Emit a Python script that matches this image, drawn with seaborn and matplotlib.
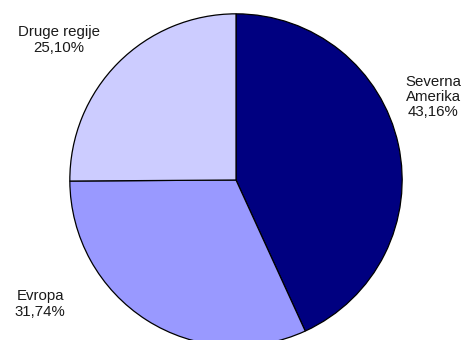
import matplotlib
matplotlib.use("Agg")
import matplotlib.pyplot as plt
import seaborn as sns

# Data
regions = ["Severna\nAmerika", "Evropa", "Druge regije"]
shares = [43.16, 31.74, 25.10]
colors = ["#000080", "#9999FF", "#CCCCFF"]

sns.set_theme(style="white")
plt.rcParams['font.family'] = ['Liberation Sans', 'DejaVu Sans']

W, H = 465, 340
fig = plt.figure(figsize=(W / 100, H / 100), dpi=100)
fig.patch.set_facecolor("white")

# pie centre and radius in pixels
cx, cy, r = 236, 180, 167
ax = fig.add_axes([(cx - r) / W, (H - cy - r) / H, 2 * r / W, 2 * r / H])
ax.set_aspect("equal")

wedges, _ = ax.pie(shares, colors=colors, startangle=90, counterclock=False,
                   wedgeprops=dict(edgecolor="black", linewidth=0.9))
ax.set_xlim(-1.005, 1.005)
ax.set_ylim(-1.005, 1.005)
ax.axis("off")
for w in wedges:
    w.set_clip_on(False)

# label positions in pixels (block centres)
label_pos = [(433, 97), (40, 304), (59, 40)]
for name, val, (px, py) in zip(regions, shares, label_pos):
    txt = f"{name}\n{val:.2f}%".replace(".", ",")
    fig.text(px / W, 1 - py / H, txt, ha="center", va="center",
             multialignment="center", fontsize=10.8, color="#1a1a1a",
             linespacing=1.1)

fig.savefig("out.png", dpi=100, facecolor="white")
